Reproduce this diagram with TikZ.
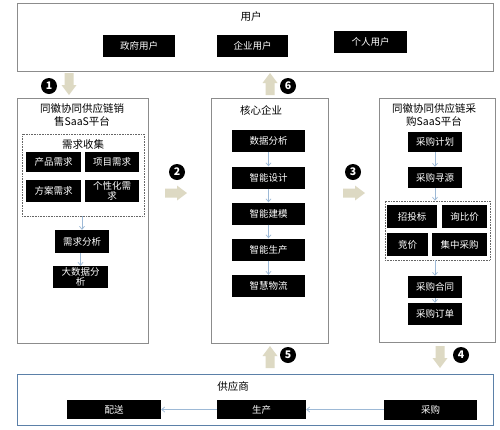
\documentclass[tikz,border=0pt]{standalone}
\usepackage{fontspec}
\setmainfont{Noto Sans CJK SC}
\usetikzlibrary{arrows.meta}
\definecolor{tanc}{HTML}{DDD9C3}
\definecolor{flowc}{HTML}{9DB9D6}
\definecolor{framec}{HTML}{8C8C8C}
\definecolor{bluec}{HTML}{5B80A8}
\tikzset{
  bbox/.style={fill=black, text=white, inner sep=0pt, align=center,
    font=\fontsize{9.5}{10.5}\selectfont},
  frame/.style={draw=framec, line width=0.8pt, fill=white},
  dotbox/.style={draw=black!60, densely dotted, line width=0.6pt, inner sep=0pt},
  head/.style={font=\fontsize{10.5}{12.5}\selectfont, align=center, inner sep=0pt},
  flow/.style={draw=flowc, line width=0.7pt, -{Straight Barb[length=3pt,width=5pt]}},
  circ/.style={circle, fill=black, text=white, inner sep=0pt, minimum size=16pt,
    font=\fontsize{10.5}{10.5}\bfseries\selectfont},
  barrow/.pic={\fill[tanc] (-4.5,0) -- (4.5,0) -- (4.5,12) -- (7.5,12) -- (0,22) -- (-7.5,12) -- (-4.5,12) -- cycle;}
}
\begin{document}
\begin{tikzpicture}[x=1pt,y=-1pt]
\useasboundingbox (0,0) rectangle (500,429);
\fill[white] (0,0) rectangle (500,429);

% top users box
\node[frame, minimum width=476pt, minimum height=68pt] (users) at (255,37) {};
\node[head] (usert) at (251,17) {用户};
\node[bbox, minimum width=72pt, minimum height=22pt] (gov) at (139,46) {政府用户};
\node[bbox, minimum width=71pt, minimum height=22pt] (ent) at (252.5,46) {企业用户};
\node[bbox, minimum width=73pt, minimum height=22pt] (per) at (370.5,42) {个人用户};

% left box
\node[frame, minimum width=131pt, minimum height=245pt] (sales) at (82.5,220.5) {};
\node[head] (salest) at (82,115) {同徽协同供应链销\\售SaaS平台};
\node[dotbox, minimum width=122pt, minimum height=82pt] (collect) at (83,175) {};
\node[head] (collectt) at (83,144) {需求收集};
\node[bbox, minimum width=55pt, minimum height=20pt] (prod) at (53.5,162) {产品需求};
\node[bbox, minimum width=54pt, minimum height=20pt] (proj) at (112,162) {项目需求};
\node[bbox, minimum width=55pt, minimum height=22pt] (plan) at (53.5,191) {方案需求};
\node[bbox, minimum width=54pt, minimum height=22pt] (pers) at (112,191) {个性化需\\求};
\node[bbox, minimum width=54pt, minimum height=23pt] (dem) at (82,241.5) {需求分析};
\node[bbox, minimum width=55pt, minimum height=22pt] (big) at (80.5,277) {大数据分\\析};
\draw[flow] (dem.north |- collect.south) -- (dem.north);
\draw[flow] (dem.south -| big.north) -- (big.north);

% middle box
\node[frame, minimum width=117pt, minimum height=245pt] (core) at (269.5,220.5) {};
\node[head] (coret) at (261,110) {核心企业};
\node[bbox, minimum width=73pt, minimum height=22pt] (m1) at (268.5,141) {数据分析};
\node[bbox, minimum width=73pt, minimum height=22pt] (m2) at (268.5,177.5) {智能设计};
\node[bbox, minimum width=73pt, minimum height=22pt] (m3) at (268.5,213.5) {智能建模};
\node[bbox, minimum width=73pt, minimum height=22pt] (m4) at (268.5,249.5) {智能生产};
\node[bbox, minimum width=73pt, minimum height=22pt] (m5) at (268.5,286) {智慧物流};
\draw[flow] (m1) -- (m2);
\draw[flow] (m2) -- (m3);
\draw[flow] (m3) -- (m4);
\draw[flow] (m4) -- (m5);

% right box
\node[frame, minimum width=116pt, minimum height=244pt] (buy) at (437,220) {};
\node[head] (buyt) at (434,115) {同徽协同供应链采\\购SaaS平台};
\node[bbox, minimum width=54pt, minimum height=20pt] (pp) at (435,142) {采购计划};
\node[bbox, minimum width=54pt, minimum height=21pt] (psrc) at (435,177.5) {采购寻源};
\node[dotbox, minimum width=105pt, minimum height=59pt] (rdot) at (437.5,230.5) {};
\node[bbox, minimum width=50pt, minimum height=23pt] (zt) at (412,216.5) {招投标};
\node[bbox, minimum width=45pt, minimum height=23pt] (xb) at (464.5,216.5) {询比价};
\node[bbox, minimum width=41pt, minimum height=23pt] (jj) at (407.5,244.5) {竞价};
\node[bbox, minimum width=55pt, minimum height=23pt] (jz) at (459.5,244.5) {集中采购};
\node[bbox, minimum width=54pt, minimum height=22pt] (ht) at (435,287) {采购合同};
\node[bbox, minimum width=54pt, minimum height=22pt] (dd) at (435,314) {采购订单};
\draw[flow] (pp) -- (psrc);
\draw[flow] (psrc.south) -- (psrc.south |- rdot.north);
\draw[flow] (ht.north |- rdot.south) -- (ht.north);
\draw[flow] (ht) -- (dd);

% bottom supplier box
\node[draw=bluec, line width=1pt, fill=white, minimum width=476pt, minimum height=51pt] (sup) at (255,399.5) {};
\node[head] (supt) at (233,386) {供应商};
\node[bbox, minimum width=94pt, minimum height=19pt] (ps) at (114,409.5) {配送};
\node[bbox, minimum width=89pt, minimum height=19pt] (sc) at (261.5,409.5) {生产};
\node[bbox, minimum width=93pt, minimum height=20pt] (cg) at (430.5,409.5) {采购};
\draw[flow] (cg) -- (sc);
\draw[flow] (sc) -- (ps);

% block arrows and step numbers
\pic at (69,73) {barrow};
\node[circ] (n1) at (49,86) {1};
\pic[rotate=180] at (270,95) {barrow};
\node[circ] (n6) at (288,86) {6};
\pic[rotate=90] at (165,193) {barrow};
\node[circ] (n2) at (177,172) {2};
\pic[rotate=90] at (343,193) {barrow};
\node[circ] (n3) at (353,172) {3};
\pic at (440,346) {barrow};
\node[circ] (n4) at (461,355) {4};
\pic[rotate=180] at (270,368) {barrow};
\node[circ] (n5) at (288,355) {5};
\end{tikzpicture}
\end{document}
